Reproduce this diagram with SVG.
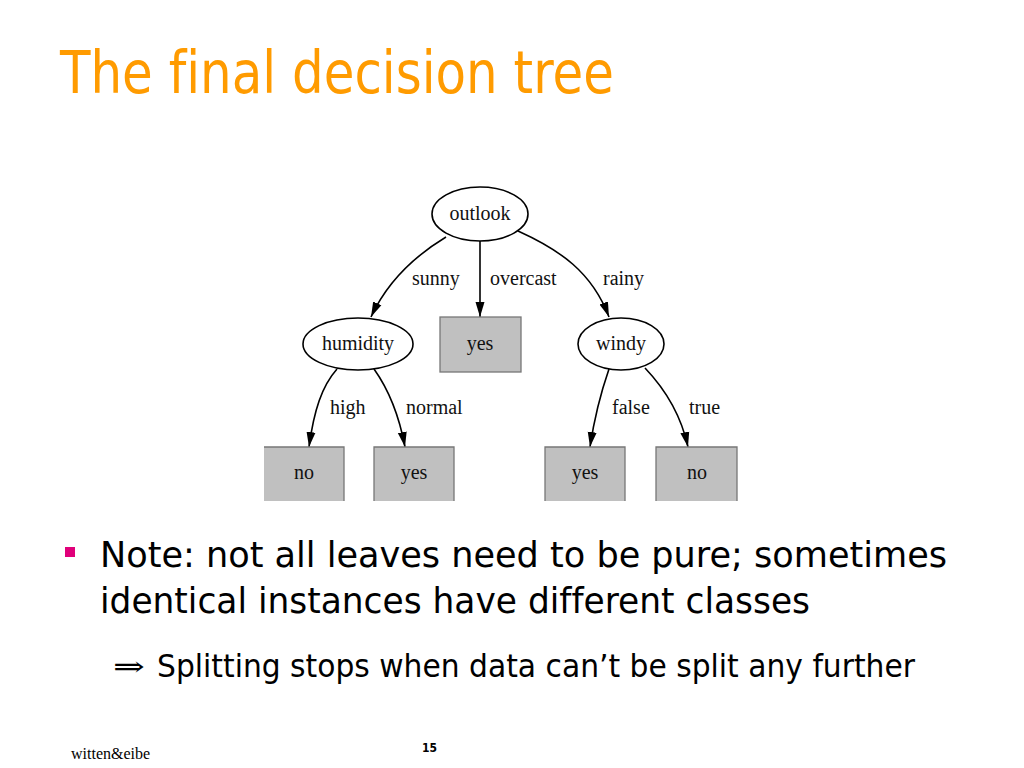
<svg xmlns="http://www.w3.org/2000/svg" width="1024" height="768" viewBox="0 0 1024 768">
<style>
.title{font-family:"DejaVu Sans","Liberation Sans",sans-serif;font-size:58px;fill:#FF9B00;font-variant-ligatures:none}
.body{font-family:"DejaVu Sans","Liberation Sans",sans-serif;fill:#000;font-variant-ligatures:none}
.t{font-family:"Liberation Serif","Times New Roman",serif;font-size:20px;fill:#111}
.c{text-anchor:middle}
.ell{fill:#fff;stroke:#000;stroke-width:1.6}
.leaf{fill:#c0c0c0}
.bd{fill:none;stroke:#777;stroke-width:1.3}
.edge{fill:none;stroke:#000;stroke-width:1.6}
</style>
<defs>
<marker id="ah" markerUnits="userSpaceOnUse" markerWidth="16" markerHeight="12" refX="15" refY="5" orient="auto">
<path d="M0,0.5 L15,5 L0,9.5 Z" fill="#000"/>
</marker>
</defs>
<rect width="1024" height="768" fill="#fff"/>
<text class="title" x="60" y="93" textLength="554" lengthAdjust="spacingAndGlyphs">The final decision tree</text>

<g id="connectors">
<path class="edge" d="M446,237 C418,254 388,280 371,317" marker-end="url(#ah)"/>
<path class="edge" d="M480,241 L480,317" marker-end="url(#ah)"/>
<path class="edge" d="M518,231 C560,250 592,272 609,317" marker-end="url(#ah)"/>
<path class="edge" d="M337,369 C322,386 314,410 309,447" marker-end="url(#ah)"/>
<path class="edge" d="M374,369 C389,390 399,415 405,447" marker-end="url(#ah)"/>
<path class="edge" d="M609,369 C600,395 594,420 590,447" marker-end="url(#ah)"/>
<path class="edge" d="M645,368 C666,390 681,415 688,447" marker-end="url(#ah)"/>
<text class="t" x="412" y="285">sunny</text>
<text class="t" x="490" y="285">overcast</text>
<text class="t" x="603" y="285">rainy</text>
<text class="t" x="330" y="414">high</text>
<text class="t" x="406" y="414">normal</text>
<text class="t" x="612" y="414">false</text>
<text class="t" x="689" y="414">true</text>
</g>

<g id="outlook">
<ellipse class="ell" cx="480" cy="214" rx="48" ry="27"/>
<text class="t c" x="480" y="220">outlook</text>
</g>
<g id="humidity">
<ellipse class="ell" cx="358" cy="344" rx="55" ry="26"/>
<text class="t c" x="358" y="350">humidity</text>
</g>
<g id="yes-overcast">
<rect class="leaf" x="440" y="317" width="81" height="55" stroke="#777" stroke-width="1.3"/>
<text class="t c" x="480" y="350">yes</text>
</g>
<g id="windy">
<ellipse class="ell" cx="621" cy="344" rx="43" ry="26"/>
<text class="t c" x="621" y="350">windy</text>
</g>
<g id="no-high">
<rect class="leaf" x="264" y="447" width="80" height="54"/>
<path class="bd" d="M264,447 H344 V501"/>
<text class="t c" x="304" y="479">no</text>
</g>
<g id="yes-normal">
<rect class="leaf" x="374" y="447" width="80" height="54"/>
<path class="bd" d="M374,501 V447 H454 V501"/>
<text class="t c" x="414" y="479">yes</text>
</g>
<g id="yes-false">
<rect class="leaf" x="545" y="447" width="80" height="54"/>
<path class="bd" d="M545,501 V447 H625 V501"/>
<text class="t c" x="585" y="479">yes</text>
</g>
<g id="no-true">
<rect class="leaf" x="656" y="447" width="81" height="54"/>
<path class="bd" d="M656,501 V447 H737 V501"/>
<text class="t c" x="697" y="479">no</text>
</g>

<rect x="65" y="547" width="10" height="10" fill="#E0007A"/>
<text class="body" x="100" y="567" font-size="36" textLength="847" lengthAdjust="spacingAndGlyphs">Note: not all leaves need to be pure; sometimes</text>
<text class="body" x="100" y="613" font-size="36" textLength="710" lengthAdjust="spacingAndGlyphs">identical instances have different classes</text>
<text x="113" y="676" font-family="'DejaVu Serif',serif" font-size="28" textLength="32" lengthAdjust="spacingAndGlyphs">⇒</text>
<text class="body" x="157" y="677" font-size="32" textLength="758" lengthAdjust="spacingAndGlyphs">Splitting stops when data can’t be split any further</text>

<text x="71" y="759" font-family="'Liberation Serif',serif" font-size="16" fill="#000">witten&amp;eibe</text>
<text x="422" y="752" font-family="'DejaVu Sans',sans-serif" font-size="12" font-weight="bold" textLength="15" lengthAdjust="spacingAndGlyphs" fill="#000">15</text>
</svg>
